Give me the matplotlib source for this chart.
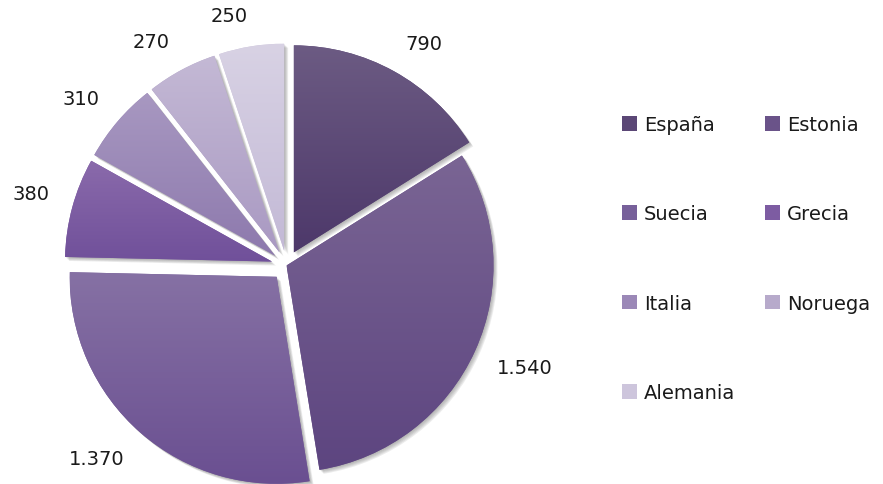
import numpy as np
import matplotlib
matplotlib.use("Agg")
import matplotlib.pyplot as plt
from matplotlib.patches import Wedge, Patch
from matplotlib.colors import LinearSegmentedColormap

# Data
paises = ["España", "Estonia", "Suecia", "Grecia", "Italia", "Noruega", "Alemania"]
valores = [790, 1540, 1370, 380, 310, 270, 250]

# Gradient colours per slice (top, bottom)
color_sup = ["#6c5b83", "#7a6594", "#8671a4", "#8a6aab", "#a898c1", "#c4b9d5", "#d8d2e4"]
color_inf = ["#4d386a", "#5d4580", "#6a4f91", "#70509a", "#8d79ad", "#a999c2", "#c3b9d6"]
color_leyenda = ["#5b4776", "#6a5389", "#77609a", "#7d5ca2", "#9b88b7", "#b7aacb", "#cdc5dc"]

plt.rcParams["font.family"] = ["DejaVu Sans"]
W, H = 883, 485
fig = plt.figure(figsize=(W / 100, H / 100), dpi=100)
ax = fig.add_axes([0, 0, 1, 1])

cx, cy = 286.5, H - 266.5
radio = 207
# every slice pulled out except the largest one (pixels)
separacion = [15, 0, 15, 15, 15, 15, 15]

wedges, _ = ax.pie(valores, startangle=90, counterclock=False, radius=radio,
                   center=(cx, cy), explode=separacion,
                   colors=color_leyenda, wedgeprops=dict(linewidth=0))

# Soft drop shadows beneath each slice
for w in wedges:
    for k in range(1, 6):
        sh = Wedge((w.center[0] + k * 0.8, w.center[1] - k * 0.8), w.r,
                   w.theta1, w.theta2, facecolor="#707070", edgecolor="none",
                   alpha=0.13, zorder=0.5)
        ax.add_patch(sh)

# Vertical gradient fill inside each slice
grad = np.linspace(0, 1, 256).reshape(-1, 1)
for w, top, bot in zip(wedges, color_sup, color_inf):
    w.set_zorder(1)
    bb = w.get_path().get_extents(w.get_transform() - ax.transData)
    cmap = LinearSegmentedColormap.from_list("g", [bot, top])
    im = ax.imshow(grad, cmap=cmap, extent=(bb.x0, bb.x1, bb.y0, bb.y1),
                   origin="lower", aspect="auto", zorder=2, interpolation="bilinear")
    im.set_clip_path(w)

# Value labels: the text box corner nearest the pie sits on a ring outside the arc
fs = 14
em = fs * 100 / 72
anillo = radio + 24
for w, v in zip(wedges, valores):
    texto = f"{v:,}".replace(",", ".")
    ang = np.deg2rad((w.theta1 + w.theta2) / 2)
    n_dig = sum(ch.isdigit() for ch in texto)
    hw = (0.636 * n_dig + 0.318 * (len(texto) - n_dig)) * em / 2
    hh = 0.73 * em / 2
    px = w.center[0] + anillo * np.cos(ang) + np.sign(np.cos(ang)) * hw
    py = w.center[1] + anillo * np.sin(ang) + np.sign(np.sin(ang)) * hh
    ax.text(px, py, texto, ha="center", va="center",
            fontsize=fs, color="#1a1a1a", zorder=5)

ax.set_xlim(0, W)
ax.set_ylim(0, H)
ax.set_aspect("equal")
ax.axis("off")

# Legend filled row by row in two columns
orden = [0, 2, 4, 6, 1, 3, 5]
handles = [Patch(facecolor=color_leyenda[i], edgecolor="none") for i in orden]
fig.legend(handles, [paises[i] for i in orden], ncol=2, loc="upper left",
           bbox_to_anchor=(622 / W, 1 - 116 / H), frameon=False,
           fontsize=fs, labelspacing=3.62, handlelength=0.78, handleheight=0.78,
           handletextpad=0.35, columnspacing=1.52, borderpad=0, borderaxespad=0,
           labelcolor="#1a1a1a")

fig.savefig("out.png", dpi=100, facecolor="white")
